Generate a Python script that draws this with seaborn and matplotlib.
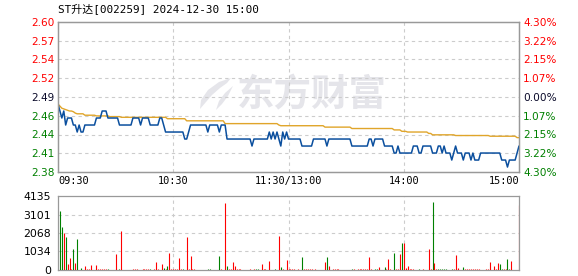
import numpy as np
import pandas as pd
import matplotlib
matplotlib.use("Agg")
import matplotlib.pyplot as plt
import seaborn as sns
from matplotlib.patches import Polygon

# ---------------- data ----------------
title = "ST升达[002259] 2024-12-30 15:00"
pre_close = 2.49
time_labels = ["09:30", "10:30", "11:30/13:00", "14:00", "15:00"]
time_label_pos = [0, 60, 120, 180, 240]
price_tick_labels = ["2.60", "2.57", "2.54", "2.52", "2.49", "2.46", "2.44", "2.41", "2.38"]
pct_values = [4.30, 3.22, 2.15, 1.07, 0.00, -1.07, -2.15, -3.22, -4.30]
pct_tick_labels = ["4.30%", "3.22%", "2.15%", "1.07%", "0.00%", "1.07%", "2.15%", "3.22%", "4.30%"]
vol_tick_values = [0, 1034, 2068, 3101, 4135]

price = [
    2.48, 2.47, 2.46, 2.47, 2.45, 2.46, 2.46, 2.46, 2.45, 2.45,
    2.44, 2.45, 2.44, 2.44, 2.45, 2.45, 2.45, 2.45, 2.45, 2.45,
    2.46, 2.46, 2.46, 2.47, 2.47, 2.47, 2.46, 2.46, 2.46, 2.46,
    2.46, 2.46, 2.45, 2.45, 2.45, 2.45, 2.45, 2.45, 2.45, 2.46,
    2.46, 2.46, 2.46, 2.45, 2.46, 2.46, 2.46, 2.46, 2.45, 2.45,
    2.45, 2.45, 2.45, 2.46, 2.46, 2.45, 2.44, 2.44, 2.44, 2.44,
    2.44, 2.44, 2.44, 2.44, 2.44, 2.44, 2.43, 2.43, 2.44, 2.45,
    2.45, 2.45, 2.45, 2.45, 2.45, 2.45, 2.45, 2.45, 2.44, 2.45,
    2.45, 2.45, 2.45, 2.45, 2.44, 2.45, 2.45, 2.45, 2.43, 2.43,
    2.43, 2.43, 2.43, 2.43, 2.43, 2.43, 2.43, 2.43, 2.43, 2.43,
    2.43, 2.42, 2.43, 2.43, 2.43, 2.43, 2.43, 2.43, 2.43, 2.43,
    2.44, 2.43, 2.44, 2.43, 2.44, 2.43, 2.42, 2.44, 2.43, 2.44,
    2.43, 2.43, 2.43, 2.43, 2.43, 2.43, 2.43, 2.42, 2.42, 2.42,
    2.42, 2.42, 2.42, 2.43, 2.43, 2.43, 2.43, 2.43, 2.43, 2.43,
    2.42, 2.43, 2.43, 2.43, 2.43, 2.43, 2.43, 2.43, 2.43, 2.43,
    2.43, 2.43, 2.43, 2.42, 2.42, 2.42, 2.42, 2.42, 2.42, 2.42,
    2.42, 2.42, 2.43, 2.43, 2.42, 2.43, 2.43, 2.43, 2.43, 2.43,
    2.42, 2.42, 2.42, 2.42, 2.42, 2.41, 2.41, 2.42, 2.41, 2.41,
    2.41, 2.41, 2.41, 2.41, 2.41, 2.42, 2.42, 2.42, 2.41, 2.41,
    2.42, 2.42, 2.42, 2.42, 2.42, 2.41, 2.41, 2.41, 2.42, 2.42,
    2.41, 2.42, 2.41, 2.41, 2.41, 2.40, 2.41, 2.42, 2.41, 2.41,
    2.41, 2.40, 2.41, 2.41, 2.41, 2.40, 2.41, 2.40, 2.40, 2.40,
    2.41, 2.41, 2.41, 2.41, 2.41, 2.41, 2.41, 2.41, 2.41, 2.41,
    2.41, 2.40, 2.40, 2.40, 2.39, 2.40, 2.40, 2.40, 2.40, 2.41,
    2.42,
]

avg_price = [
    2.480, 2.477, 2.474, 2.473, 2.472, 2.471, 2.470, 2.470, 2.469, 2.467,
    2.466, 2.466, 2.466, 2.466, 2.464, 2.464, 2.464, 2.464, 2.464, 2.464,
    2.463, 2.463, 2.463, 2.463, 2.463, 2.463, 2.463, 2.462, 2.462, 2.462,
    2.462, 2.462, 2.462, 2.461, 2.461, 2.461, 2.461, 2.461, 2.461, 2.461,
    2.461, 2.461, 2.461, 2.461, 2.461, 2.461, 2.461, 2.461, 2.461, 2.461,
    2.461, 2.461, 2.461, 2.461, 2.461, 2.461, 2.461, 2.459, 2.459, 2.459,
    2.459, 2.459, 2.459, 2.459, 2.459, 2.459, 2.459, 2.456, 2.456, 2.456,
    2.456, 2.456, 2.456, 2.456, 2.456, 2.456, 2.456, 2.456, 2.456, 2.456,
    2.456, 2.456, 2.456, 2.456, 2.456, 2.456, 2.456, 2.452, 2.452, 2.452,
    2.452, 2.452, 2.452, 2.452, 2.452, 2.452, 2.452, 2.452, 2.452, 2.452,
    2.452, 2.452, 2.452, 2.452, 2.452, 2.452, 2.452, 2.452, 2.452, 2.452,
    2.452, 2.452, 2.452, 2.452, 2.452, 2.450, 2.449, 2.449, 2.449, 2.449,
    2.449, 2.449, 2.449, 2.449, 2.449, 2.449, 2.449, 2.449, 2.449, 2.449,
    2.449, 2.449, 2.449, 2.449, 2.449, 2.449, 2.449, 2.449, 2.449, 2.447,
    2.447, 2.447, 2.447, 2.447, 2.447, 2.447, 2.447, 2.447, 2.447, 2.447,
    2.447, 2.447, 2.447, 2.445, 2.445, 2.445, 2.445, 2.445, 2.445, 2.445,
    2.445, 2.445, 2.445, 2.445, 2.445, 2.445, 2.445, 2.445, 2.445, 2.445,
    2.445, 2.445, 2.445, 2.445, 2.445, 2.443, 2.443, 2.443, 2.443, 2.441,
    2.441, 2.441, 2.440, 2.440, 2.440, 2.440, 2.440, 2.440, 2.440, 2.440,
    2.440, 2.440, 2.440, 2.438, 2.438, 2.436, 2.436, 2.436, 2.436, 2.436,
    2.436, 2.436, 2.436, 2.436, 2.436, 2.436, 2.436, 2.435, 2.435, 2.435,
    2.435, 2.435, 2.435, 2.435, 2.435, 2.435, 2.435, 2.435, 2.435, 2.435,
    2.435, 2.435, 2.435, 2.435, 2.435, 2.434, 2.434, 2.434, 2.434, 2.434,
    2.434, 2.434, 2.434, 2.434, 2.434, 2.434, 2.434, 2.434, 2.434, 2.432,
    2.432,
]

volume = [
    0, 3297, 2403, 2086, 1844, 335, 670, 75, 1173, 391,
    1732, 0, 112, 0, 223, 75, 75, 279, 0, 0,
    279, 75, 75, 75, 75, 75, 75, 0, 0, 0,
    894, 0, 37, 2179, 0, 0, 0, 0, 0, 75,
    75, 75, 0, 0, 75, 75, 75, 75, 75, 0,
    75, 447, 75, 0, 335, 112, 37, 223, 950, 75,
    75, 75, 75, 670, 75, 75, 0, 1844, 75, 782,
    75, 75, 0, 0, 0, 0, 0, 0, 75, 75,
    0, 0, 0, 0, 782, 75, 0, 3762, 223, 75,
    75, 447, 223, 75, 75, 75, 0, 0, 0, 0,
    75, 0, 75, 75, 75, 0, 335, 75, 75, 0,
    503, 0, 0, 75, 0, 1900, 149, 75, 0, 559,
    75, 37, 37, 37, 0, 37, 0, 726, 37, 75,
    37, 37, 37, 0, 37, 0, 0, 0, 0, 447,
    726, 223, 0, 37, 37, 37, 37, 0, 0, 0,
    0, 0, 0, 37, 37, 0, 37, 37, 37, 37,
    37, 37, 726, 75, 0, 37, 37, 149, 0, 0,
    168, 37, 615, 37, 0, 950, 37, 37, 894, 1509,
    1509, 112, 223, 37, 37, 37, 0, 0, 37, 0,
    37, 0, 0, 1173, 37, 3799, 391, 37, 37, 37,
    37, 37, 37, 0, 0, 37, 37, 838, 112, 0,
    0, 168, 37, 37, 37, 37, 37, 37, 37, 37,
    0, 0, 0, 37, 37, 447, 0, 223, 37, 391,
    335, 75, 37, 37, 615, 75, 503, 0, 0, 0,
    3632,
]

vol_up = [
    1, 0, 0, 1, 0, 1, 1, 1, 0, 1,
    0, 1, 0, 1, 1, 1, 1, 1, 1, 1,
    1, 1, 1, 1, 1, 1, 0, 1, 1, 1,
    1, 1, 0, 1, 1, 1, 1, 1, 1, 1,
    1, 1, 1, 1, 1, 1, 1, 1, 0, 1,
    1, 1, 1, 1, 1, 0, 1, 0, 1, 1,
    1, 1, 1, 1, 1, 0, 1, 1, 1, 1,
    1, 1, 1, 1, 1, 1, 1, 1, 0, 0,
    1, 1, 1, 1, 0, 1, 1, 1, 0, 1,
    1, 1, 1, 1, 1, 1, 1, 1, 1, 1,
    1, 1, 1, 0, 0, 1, 1, 1, 1, 1,
    1, 1, 1, 0, 1, 1, 0, 1, 1, 1,
    1, 1, 1, 1, 1, 1, 1, 0, 1, 1,
    1, 1, 1, 1, 1, 1, 1, 1, 1, 1,
    0, 1, 1, 1, 1, 1, 1, 1, 1, 1,
    1, 1, 1, 0, 1, 1, 1, 1, 1, 1,
    1, 1, 1, 1, 1, 0, 0, 1, 1, 1,
    0, 1, 1, 1, 1, 0, 1, 1, 1, 0,
    1, 1, 1, 1, 1, 1, 1, 1, 0, 1,
    1, 1, 1, 1, 1, 0, 1, 1, 0, 0,
    0, 0, 0, 1, 1, 0, 1, 1, 1, 1,
    1, 0, 1, 1, 1, 1, 1, 1, 1, 1,
    1, 1, 1, 1, 1, 1, 1, 1, 1, 1,
    0, 0, 1, 1, 0, 0, 1, 1, 1, 1,
    1,
]

# ---------------- styling ----------------
sns.set_theme(style="white")
plt.rcParams["font.family"] = ["DejaVu Sans", "Noto Sans CJK SC"]

RED = "#ff0000"
GREEN = "#008000"
DARK = "#0a0a2a"
SPINE = "#999999"
GRID = "#cccccc"
BLUE = "#0b4f9e"
GOLD = "#e0a52a"

W, H = 578, 276
fig = plt.figure(figsize=(W / 100, H / 100), dpi=100)
fig.patch.set_facecolor("white")

def rect(l, t, r, b):
    return [l / W, 1 - b / H, (r - l) / W, (b - t) / H]

ax = fig.add_axes(rect(58, 22, 519, 172))
axv = fig.add_axes(rect(58, 196, 519, 270))

minutes = np.arange(len(price))
df = pd.DataFrame({"minute": minutes, "price": price, "avg": avg_price,
                   "volume": volume, "up": vol_up})

# watermark (under everything)
ax.text(0.551, 0.513, "东方财富", transform=ax.transAxes, ha="center", va="center",
        fontsize=27, fontweight="bold", color="#e5e5ea",
        family=["Noto Sans CJK SC"], zorder=0.2)
def axpt(px, py):
    return ((px - 58) / 461, (172 - py) / 150)
logo1 = [axpt(*p) for p in [(231, 78), (219, 82), (208, 90), (201, 100), (200, 109),
                            (206, 102), (212, 95), (220, 88), (227, 83)]]
logo2 = [axpt(*p) for p in [(233, 86), (225, 93), (219, 101), (216, 110),
                            (222, 104), (228, 96)]]
for pts in (logo1, logo2):
    ax.add_patch(Polygon(pts, closed=True, transform=ax.transAxes,
                         facecolor="#e5e5ea", edgecolor="none", zorder=0.2))

# lines
sns.lineplot(data=df, x="minute", y="avg", ax=ax, color=GOLD, lw=1.0, zorder=3)
sns.lineplot(data=df, x="minute", y="price", ax=ax, color=BLUE, lw=1.1, zorder=4)

lo, hi = pre_close * (1 - 0.043), pre_close * (1 + 0.043)
ax.set_xlim(0, 240)
ax.set_ylim(lo, hi)
ax.set_xlabel("")
ax.set_ylabel("")

tick_pos = [pre_close * (1 + p / 100) for p in pct_values]
ax.set_yticks(tick_pos)
ax.set_yticklabels(price_tick_labels)
def col(p):
    return RED if p > 0 else (GREEN if p < 0 else DARK)
for lab, p in zip(ax.get_yticklabels(), pct_values):
    lab.set_color(col(p))
ax.tick_params(axis="y", length=0, pad=2.5, labelsize=7.6)

ax2 = ax.twinx()
ax2.set_ylim(lo, hi)
ax2.set_yticks(tick_pos)
ax2.set_yticklabels(pct_tick_labels)
for lab, p in zip(ax2.get_yticklabels(), pct_values):
    lab.set_color(col(p))
ax2.tick_params(axis="y", length=0, pad=3, labelsize=7.6)
ax2.grid(False)

ax.set_xticks(time_label_pos)
ax.set_xticklabels(time_labels, family=["DejaVu Sans Mono"], fontsize=7.4, color="black")
has = ["left", "center", "center", "center", "right"]
for lab, h in zip(ax.get_xticklabels(), has):
    lab.set_ha(h)
ax.tick_params(axis="x", length=0, pad=3)

# grid (internal only)
for y in tick_pos[1:-1]:
    ax.axhline(y, color=GRID, lw=0.8, ls=(0, (3, 3)), zorder=1)
for x in time_label_pos[1:-1]:
    ax.axvline(x, color=GRID, lw=0.8, ls=(0, (3, 3)), zorder=1)

for a in (ax, ax2, axv):
    for s in a.spines.values():
        s.set_color(SPINE)
        s.set_linewidth(0.9)

# volume
colors = [RED if u else GREEN for u in vol_up]
axv.vlines(df["minute"], 0, df["volume"], colors=colors, lw=0.8, zorder=3)
axv.set_xlim(0, 240)
axv.set_ylim(0, vol_tick_values[-1])
axv.set_yticks(vol_tick_values)
axv.set_yticklabels([str(v) for v in vol_tick_values])
axv.tick_params(axis="y", length=0, pad=5, labelsize=7.8, labelcolor="black")
axv.set_xticks([])
for y in vol_tick_values[1:-1]:
    axv.axhline(y, color=GRID, lw=0.8, ls=(0, (3, 3)), zorder=1)
for x in time_label_pos[1:-1]:
    axv.axvline(x, color=GRID, lw=0.8, ls=(0, (3, 3)), zorder=1)

fig.text(58 / W, 1 - 9 / H, title, ha="left", va="center", fontsize=7.9,
         family=["DejaVu Sans Mono", "Noto Sans CJK SC"], color="black")

fig.savefig("out.png", dpi=100, facecolor="white")
